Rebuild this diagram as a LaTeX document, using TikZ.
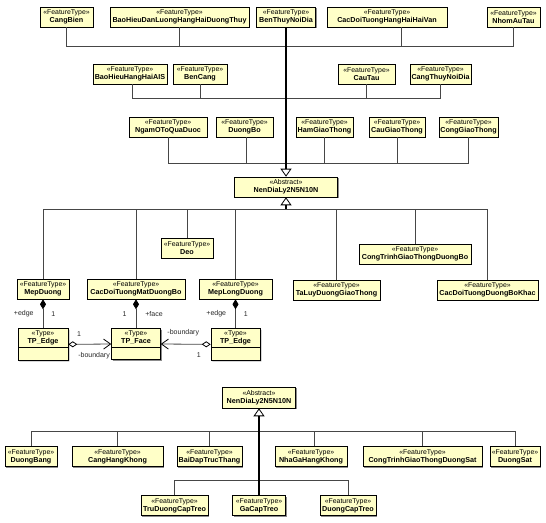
\documentclass[tikz,border=0pt]{standalone}
\usepackage{fontspec}
\setmainfont{Liberation Sans}
\usepackage{tikz}
\usetikzlibrary{arrows.meta,positioning,shadows,shapes.multipart}
\definecolor{umlFill}{RGB}{255,255,200}
\definecolor{umlLine}{RGB}{70,70,70}
\newcommand{\stereo}[1]{{\fontsize{6.9}{8.2}\selectfont\mdseries «#1»}}

\begin{document}
\begin{tikzpicture}[
  x=1pt,y=-1pt,
  font=\fontsize{7.2}{8.2}\selectfont\bfseries,
  cls/.style={draw=black,line width=0.55pt,fill=umlFill,align=center,
              inner sep=1pt,minimum height=20pt,
              drop shadow={shadow xshift=1.3pt,shadow yshift=-1.3pt,
                           fill=black!45,opacity=1}},
  tpbox/.style={cls,rectangle split,rectangle split parts=2,
                rectangle split empty part height=8pt,inner ysep=2pt},
  br/.style={umlLine,line width=0.8pt},
  trunk/.style={black,line width=1.5pt,
                -{Triangle[open,length=8pt,width=11pt,line width=0.8pt]}},
  comp/.style={umlLine,line width=0.8pt,{Diamond[length=10pt,width=6pt,black]}-},
  agg/.style={umlLine,line width=0.8pt,
              {Diamond[open,length=9pt,width=6pt,black]}-{Straight Barb[length=7pt,width=10pt,black]}},
  lbl/.style={font=\fontsize{7}{8}\selectfont,inner sep=1pt,text=black!85},
]
  \useasboundingbox (0,0) rectangle (546,522);

  % upper group
  \node[cls,minimum width=53pt] (cangbien) at (66.5,17)
    {\stereo{FeatureType}\\CangBien};
  \node[cls,minimum width=139pt] (bhdl) at (179.5,17)
    {\stereo{FeatureType}\\BaoHieuDanLuongHangHaiDuongThuy};
  \node[cls,minimum width=59pt] (benthuy) at (286,17)
    {\stereo{FeatureType}\\BenThuyNoiDia};
  \node[cls,minimum width=120pt] (cdthh) at (387,17)
    {\stereo{FeatureType}\\CacDoiTuongHangHaiHaiVan};
  \node[cls,minimum width=53pt] (nhomautau) at (513.5,17)
    {\stereo{FeatureType}\\NhomAuTau};
  \node[cls,minimum width=74pt] (bhais) at (130,74)
    {\stereo{FeatureType}\\BaoHieuHangHaiAIS};
  \node[cls,minimum width=54pt] (bencang) at (200,74)
    {\stereo{FeatureType}\\BenCang};
  \node[cls,minimum width=57pt] (cautau) at (366.5,74)
    {\stereo{FeatureType}\\CauTau};
  \node[cls,minimum width=61pt] (cangthuy) at (440.5,74)
    {\stereo{FeatureType}\\CangThuyNoiDia};
  \node[cls,minimum width=78pt] (ngamoto) at (168,127)
    {\stereo{FeatureType}\\NgamOToQuaDuoc};
  \node[cls,minimum width=57pt] (duongbo) at (244.5,127)
    {\stereo{FeatureType}\\DuongBo};
  \node[cls,minimum width=57pt] (hamgt) at (324.5,127)
    {\stereo{FeatureType}\\HamGiaoThong};
  \node[cls,minimum width=56pt] (caugt) at (397,127)
    {\stereo{FeatureType}\\CauGiaoThong};
  \node[cls,minimum width=59pt] (conggt) at (468.5,127)
    {\stereo{FeatureType}\\CongGiaoThong};
  \node[cls,minimum width=103pt] (nendl) at (286,187)
    {\stereo{Abstract}\\NenDiaLy2N5N10N};

  % road group
  \node[cls,minimum width=52pt] (mepduong) at (43,289)
    {\stereo{FeatureType}\\MepDuong};
  \node[cls,minimum width=98pt] (cdtmdb) at (136,289)
    {\stereo{FeatureType}\\CacDoiTuongMatDuongBo};
  \node[cls,minimum width=52pt] (deo) at (187,248)
    {\stereo{FeatureType}\\Deo};
  \node[cls,minimum width=73pt] (meplong) at (235.5,289)
    {\stereo{FeatureType}\\MepLongDuong};
  \node[cls,minimum width=87pt] (taluy) at (336.5,290)
    {\stereo{FeatureType}\\TaLuyDuongGiaoThong};
  \node[cls,minimum width=112pt] (ctgtdb) at (415,254)
    {\stereo{FeatureType}\\CongTrinhGiaoThongDuongBo};
  \node[cls,minimum width=101pt] (cdtdbk) at (487.5,290)
    {\stereo{FeatureType}\\CacDoiTuongDuongBoKhac};

  \node[tpbox,minimum width=50pt,below=29pt of mepduong] (tpedgea)
    {\stereo{Type}\\TP\_Edge \nodepart{two}};
  \node[tpbox,minimum width=49pt,below=29pt of cdtmdb] (tpface)
    {\stereo{Type}\\TP\_Face \nodepart{two}};
  \node[tpbox,minimum width=49pt,below=29pt of meplong] (tpedgeb)
    {\stereo{Type}\\TP\_Edge \nodepart{two}};

  % air, rail, cable group
  \node[cls,minimum width=73pt,minimum height=21pt] (nendl2) at (259,397.5)
    {\stereo{Abstract}\\NenDiaLy2N5N10N};
  \node[cls,minimum width=52pt] (duongbang) at (31,456.5)
    {\stereo{FeatureType}\\DuongBang};
  \node[cls,minimum width=91pt] (canghk) at (117.5,456.5)
    {\stereo{FeatureType}\\CangHangKhong};
  \node[cls,minimum width=65pt] (baidap) at (209.5,456.5)
    {\stereo{FeatureType}\\BaiDapTrucThang};
  \node[cls,minimum width=72pt] (nhaga) at (311,456.5)
    {\stereo{FeatureType}\\NhaGaHangKhong};
  \node[cls,minimum width=119pt] (ctgtds) at (422.5,456.5)
    {\stereo{FeatureType}\\CongTrinhGiaoThongDuongSat};
  \node[cls,minimum width=50pt] (duongsat) at (515,456.5)
    {\stereo{FeatureType}\\DuongSat};
  \node[cls,minimum width=67pt] (trudct) at (174.5,505.5)
    {\stereo{FeatureType}\\TruDuongCapTreo};
  \node[cls,minimum width=53pt] (gacaptreo) at (259,505.5)
    {\stereo{FeatureType}\\GaCapTreo};
  \node[cls,minimum width=56pt] (duongct) at (348,505.5)
    {\stereo{FeatureType}\\DuongCapTreo};

  \coordinate (b1) at (286,46);
  \coordinate (b1b) at (286,98);
  \coordinate (b1c) at (286,163);
  \coordinate (b2) at (286,209);
  \coordinate (b3) at (259,431);
  \coordinate (b4) at (259,480);

  \draw[br] (cangbien.south) |- (b1);
  \draw[br] (bhdl.south) |- (b1);
  \draw[br] ([xshift=14pt]cdthh.south) |- (b1);
  \draw[br] (nhomautau.south) |- (b1);
  \draw[br] ([xshift=2pt]bhais.south) |- (b1b);
  \draw[br] (bencang.south) |- (b1b);
  \draw[br] (cautau.south) |- (b1b);
  \draw[br] (cangthuy.south) |- (b1b);
  \draw[br] (ngamoto.south) |- (b1c);
  \draw[br] ([xshift=2pt]duongbo.south) |- (b1c);
  \draw[br] (hamgt.south) |- (b1c);
  \draw[br] (caugt.south) |- (b1c);
  \draw[br] (conggt.south) |- (b1c);
  \draw[trunk] (benthuy.south) -- (nendl.north);

  \draw[br] (mepduong.north) |- (b2);
  \draw[br] (cdtmdb.north) |- (b2);
  \draw[br] (deo.north) |- (b2);
  \draw[br] (meplong.north) |- (b2);
  \draw[br] (taluy.north) |- (b2);
  \draw[br] (ctgtdb.north) |- (b2);
  \draw[br] (cdtdbk.north) |- (b2);
  \draw[trunk] (b2) -- (nendl.south);

  \draw[comp] (mepduong.south) -- node[lbl,left=8pt]{+edge}
    node[lbl,right=7pt]{1} (tpedgea.north);
  \draw[comp] (cdtmdb.south) -- node[lbl,left=8pt]{1}
    node[lbl,right=8pt]{+face} (tpface.north);
  \draw[comp] (meplong.south) -- node[lbl,left=8pt]{+edge}
    node[lbl,right=7pt]{1} (tpedgeb.north);
  \draw[agg] (tpedgea.east) -- node[lbl,pos=0.25,above=6pt]{1}
    node[lbl,pos=0.6,below=7pt]{-boundary} (tpface.west);
  \draw[agg] (tpedgeb.west) -- node[lbl,pos=0.55,above=7pt]{-boundary}
    node[lbl,pos=0.24,below=7pt]{1} (tpface.east);

  \draw[br] (duongbang.north) |- (b3);
  \draw[br] (canghk.north) |- (b3);
  \draw[br] (baidap.north) |- (b3);
  \draw[br] ([xshift=3pt]nhaga.north) |- (b3);
  \draw[br] (ctgtds.north) |- (b3);
  \draw[br] (duongsat.north) |- (b3);
  \draw[br] (trudct.north) |- (b4);
  \draw[br] (duongct.north) |- (b4);
  \draw[trunk] (gacaptreo.north) -- (nendl2.south);
\end{tikzpicture}
\end{document}
